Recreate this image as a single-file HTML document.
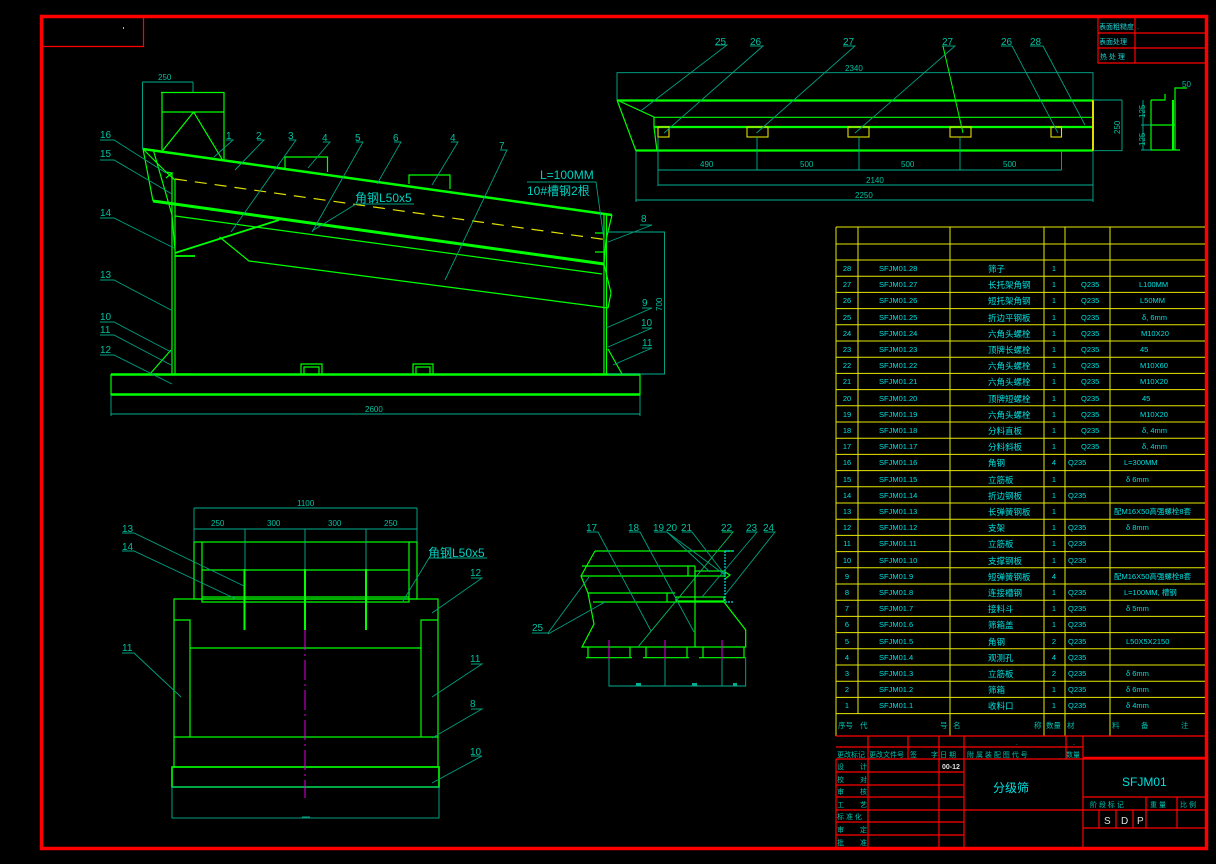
<!DOCTYPE html>
<html><head><meta charset="utf-8"><style>
html,body{margin:0;padding:0;background:#000;}
svg{display:block;}
text{font-family:"Liberation Sans","Noto Sans CJK SC",sans-serif;}
</style></head><body>
<svg width="1216" height="864" viewBox="0 0 1216 864" xmlns="http://www.w3.org/2000/svg">
<rect width="1216" height="864" fill="#000"/>
<!-- border -->
<rect x="41.5" y="16.5" width="1165" height="832" fill="none" stroke="#ff0000" stroke-width="3.5"/>
<path d="M42 46.5H143.5V17" fill="none" stroke="#ff0000" stroke-width="1.2"/>
<rect x="123" y="27" width="1" height="2" fill="#0ff"/>

<!-- top right small table -->
<g stroke="#ff0000" stroke-width="1.2" fill="none">
<path d="M1098 18V63H1205M1098 33H1205M1098 48H1205M1135 18V63"/>
</g>
<g fill="#20d0d0" font-size="7">
<text x="1099" y="29">表面粗糙度</text><text x="1137" y="29">.</text>
<text x="1099" y="44">表面处理</text>
<text x="1100" y="59">热 处 理</text>
</g>

<!-- ===== SIDE VIEW ===== -->
<g stroke="#00ff00" fill="none" stroke-width="1.2">
<!-- hopper -->
<path d="M161 92.5H224M162 92V150M224 92V159M162 112H224M162.5 150.7L193.6 112L222 159" />
<!-- body -->
<path d="M143 149L612 215" stroke-width="2.5"/>
<path d="M153 201L604 264" stroke-width="3"/>
<path d="M175 216L602 274"/>
<path d="M219.5 237L249 261L608 308"/>
<path d="M143 149L153 201M143 149L166 172L175 180M153 149L172 215L175 250M166 172L172 173L166 178"/>
<path d="M612 215L606 240L604 264M604 264L611 293L608 308"/>
<path d="M172 173V374M175 180V374M604 214V374M606.5 214V374" />
<path d="M175 253L279 220M175 256H195" stroke-width="1.8"/>
<path d="M595 233H604M595 252H604"/>
<!-- inspection holes -->
<path d="M285 170V157H327.5V172M409 184V175H450V189"/>
<!-- base -->
<path d="M111 374.5H640M111 394.5H640" stroke-width="2.5"/>
<path d="M111 374V395M640 374V395"/>
<path d="M301 374V364H322V374M304 374V367H319V374M413 374V364H433V374M416 374V367H430V374"/>
<path d="M175 374H193M592 374H604"/>
<path d="M150 374L171 350M622 374L608 349"/>
</g>
<path d="M175 179L608 240" stroke="#e0e000" stroke-width="1.2" stroke-dasharray="12,8" fill="none"/>
<!-- dims side -->
<g stroke="#00b090" stroke-width="0.9" fill="none">
<path d="M142.5 82H193M142.5 82V149M193 82V92"/>
<path d="M111 395V416M640 395V416M111 414H640"/>
<path d="M606 232H665M608 374H665M664.5 232V374"/>
</g>
<g fill="#00c0a0" font-size="8">
<text x="158" y="80">250</text>
<text x="365" y="412">2600</text>
<text x="0" y="0" transform="translate(662,311) rotate(-90)">700</text>
</g>
<!-- leaders side -->
<g stroke="#00a080" stroke-width="0.9" fill="none">
<path d="M100 140H114L166 173"/><path d="M100 160H114L172 194"/>
<path d="M100 218H114L174 248"/><path d="M100 280H114L171 310"/>
<path d="M100 322H114L171 352"/><path d="M100 335H114L171 365"/>
<path d="M100 355H114L172 384"/>
<path d="M226 140H233L214 157"/><path d="M257 140H264L235 170"/>
<path d="M289 140H296L231 232"/><path d="M323 142H330L308 168"/>
<path d="M356 142H363L312 232"/><path d="M394 142H401L377 184"/>
<path d="M451 142H458L432 185"/><path d="M500 150H507L445 280"/>
<path d="M640 225H652L608 242"/><path d="M642 308H652L606 328"/>
<path d="M642 328H652L608 347"/><path d="M642 348H652L613 365"/>
<path d="M356 204H414M356 204L312 231"/>
<path d="M527 182H596L604 240"/>
</g>
<g fill="#00c0a0" font-size="10">
<text x="100" y="138">16</text><text x="100" y="157">15</text><text x="100" y="216">14</text>
<text x="100" y="278">13</text><text x="100" y="320">10</text><text x="100" y="333">11</text>
<text x="100" y="353">12</text>
<text x="226" y="139">1</text><text x="256" y="139">2</text><text x="288" y="139">3</text>
<text x="322" y="141">4</text><text x="355" y="141">5</text><text x="393" y="141">6</text>
<text x="450" y="141">4</text><text x="499" y="149">7</text>
<text x="641" y="222">8</text><text x="642" y="306">9</text><text x="641" y="326">10</text><text x="642" y="346">11</text>
</g>
<g fill="#00d0c0" font-size="12">
<text x="355" y="202">角钢L50x5</text>
<text x="540" y="179">L=100MM</text>
<text x="527" y="195">10#槽钢2根</text>
</g>

<!-- ===== TOP RIGHT VIEW ===== -->
<g stroke="#00ff00" fill="none" stroke-width="1.2">
<path d="M617 100.5H1093M636 150.5H1093M654 127H1093" stroke-width="2.2"/>
<path d="M654 117.3H1093"/>
<path d="M617 100L636 151M617 100L654 117M654 117V127L657 151"/>
<path d="M1151 100V150M1175 100V150M1151 100H1165V94M1151 125H1175M1151 150H1180M1175 100V88H1187"/>
<path d="M1173 100V150" stroke-width="2"/>
</g>
<path d="M1093 100V151" stroke="#e0e000" stroke-width="2"/>
<g stroke="#e0e000" stroke-width="1.1" fill="none">
<rect x="658" y="127" width="11" height="10"/><rect x="747" y="127" width="21" height="10"/>
<rect x="848" y="127" width="21" height="10"/><rect x="950" y="127" width="21" height="10"/>
<rect x="1051" y="127" width="10.5" height="10"/>
</g>
<g stroke="#00b090" stroke-width="0.9" fill="none">
<path d="M617 100V72.7H1093V100"/>
<path d="M1093 100H1122M1093 150.7H1122M1122 100V151"/>
<path d="M757 137V170M859 137V170M960 137V170M658 137V186M1061.5 151V170M658 170H1061.5"/>
<path d="M658 185H1093M1093 151V202M636 151V202M636 200H1093"/>
<path d="M1151 125H1141M1151 150H1141M1143 100V150"/>
</g>
<g fill="#00c0a0" font-size="8">
<text x="845" y="71">2340</text>
<text x="700" y="167">490</text><text x="800" y="167">500</text><text x="901" y="167">500</text><text x="1003" y="167">500</text>
<text x="866" y="183">2140</text><text x="855" y="198">2250</text>
<text transform="translate(1120,134) rotate(-90)">250</text>
<text transform="translate(1145,118) rotate(-90)">125</text>
<text transform="translate(1145,146) rotate(-90)">125</text>
<text x="1182" y="87">50</text>
</g>
<g stroke="#00a080" stroke-width="0.9" fill="none">
<path d="M715 45H727L640.6 111"/><path d="M750 46H763L664 133"/><path d="M843 46H855L756.5 133"/>
<path d="M942 46H955L855 133"/><path d="M1001 46H1012L1058 133"/><path d="M1030 46H1043L1085 125"/>
</g>
<path d="M943 46L963 133" stroke="#00ff00" stroke-width="1"/>
<g fill="#00c0a0" font-size="10">
<text x="715" y="45">25</text><text x="750" y="45">26</text><text x="843" y="45">27</text>
<text x="942" y="45">27</text><text x="1001" y="45">26</text><text x="1030" y="45">28</text>
</g>

<!-- ===== BOTTOM LEFT VIEW ===== -->
<g stroke="#00ff00" fill="none" stroke-width="1.2">
<rect x="194" y="542" width="223" height="57"/>
<path d="M202 542V602H409V542M202 570H409M202 597H409"/>
<rect x="174" y="599" width="264" height="168"/>
<path d="M174 620H190V737M438 620H421V737M190 648H421M174 737H438"/>
<rect x="172" y="767" width="267" height="20" stroke-width="1.6"/>
<path d="M244.5 569V630M305 569V630M366 569V630" stroke-width="2"/>
</g>
<g stroke="#00b090" stroke-width="0.9" fill="none">
<path d="M194 508H417M194 508V542M417 508V542M194 529H417M245 529V569M305 529V569M366 529V569"/>
<rect x="172" y="787" width="267" height="31"/>
<path d="M302 817H310"/>
</g>
<path d="M305 630V798" stroke="#e000e0" stroke-width="1" stroke-dasharray="20,4,2,4"/>
<g fill="#00c0a0" font-size="8">
<text x="297" y="506">1100</text>
<text x="211" y="526">250</text><text x="267" y="526">300</text><text x="328" y="526">300</text><text x="384" y="526">250</text>
</g>
<g stroke="#00a080" stroke-width="0.9" fill="none">
<path d="M122 533H134L244 586"/><path d="M122 551H134L236 599"/>
<path d="M429 558H487M429 558L403 601"/>
<path d="M471 578H482L432 613"/><path d="M122 653H134L181 697"/>
<path d="M471 664H482L432 697"/><path d="M471 709H482L432 738"/><path d="M471 756H482L432 783"/>
</g>
<g fill="#00c0a0" font-size="10">
<text x="122" y="532">13</text><text x="122" y="550">14</text><text x="470" y="576">12</text>
<text x="122" y="651">11</text><text x="470" y="662">11</text><text x="470" y="707">8</text><text x="470" y="755">10</text>
</g>
<text x="428" y="557" fill="#00d0c0" font-size="12">角钢L50x5</text>

<!-- ===== BOTTOM MIDDLE VIEW ===== -->
<g stroke="#00ff00" fill="none" stroke-width="1.2">
<path d="M595 551H734M582 566H695M581 576H695M588 593H675M593 602H724"/>
<path d="M595 551L581 576L588 593L594 624L582 647H745.7V630L724 602"/>
<path d="M695 566V647M688 566V576M667 593V602"/>
<path d="M586 657.7H632M643 657.7H689M699 657.7H745M588 647V658M630 647V658M646 647V658M687 647V658M703 647V658M744 647V658"/>
<rect x="695" y="571" width="30" height="5"/><rect x="676" y="597" width="48" height="4"/>
<path d="M725 572L730 575L725 579"/>
</g>
<path d="M725 551V602M725 551H734M725 602H734" stroke="#00e0e0" stroke-width="1.2" stroke-dasharray="2,1"/>
<g stroke="#00b090" stroke-width="0.9" fill="none">
<path d="M609 657V686H745.7V657M665 657V686M722 657V686"/>
</g>
<g stroke="#e000e0" stroke-width="1"><path d="M609 640V660M665 640V660M722 640V660"/></g>
<g fill="#00b090"><rect x="636" y="683" width="5" height="3"/><rect x="692" y="683" width="5" height="3"/><rect x="733" y="683" width="4" height="3"/></g>
<g stroke="#00a080" stroke-width="0.9" fill="none">
<path d="M587 532H598L651 631"/><path d="M629 532H640L694 632"/>
<path d="M654 532H667L710 572"/><path d="M667 532L725 575"/><path d="M682 532H692L725 575"/>
<path d="M746 532H757L702 597"/><path d="M764 532H775L725 595"/>
<path d="M532 633H548L589 577M548 634L605 602"/>
</g>
<path d="M722 532H733L638 647" stroke="#00c060" stroke-width="0.9" fill="none"/>
<g fill="#00c0a0" font-size="10">
<text x="586" y="531">17</text><text x="628" y="531">18</text><text x="653" y="531">19</text>
<text x="666" y="531">20</text><text x="681" y="531">21</text><text x="721" y="531">22</text>
<text x="746" y="531">23</text><text x="763" y="531">24</text><text x="532" y="631">25</text>
</g>

<!-- ===== PARTS TABLE ===== -->
<g stroke="#e8e800" stroke-width="1" fill="none">
<path d="M836 227H1205M836 244H1205M836 260H1205"/>
<path d="M836 276.2H1205M836 292.4H1205M836 308.6H1205M836 324.8H1205M836 341H1205M836 357.2H1205M836 373.4H1205M836 389.6H1205M836 405.8H1205M836 422H1205M836 438.2H1205M836 454.4H1205M836 470.6H1205M836 486.8H1205M836 503H1205M836 519.2H1205M836 535.4H1205M836 551.6H1205M836 567.8H1205M836 584H1205M836 600.2H1205M836 616.4H1205M836 632.6H1205M836 648.8H1205M836 665H1205M836 681.2H1205M836 697.4H1205M836 713.6H1205"/>
<path d="M836 227V736M858 227V714M950 227V736M1044 227V736M1065 227V736M1110 227V736"/>
</g>
<g fill="#00e0e0" font-size="7.5">
<g text-anchor="middle">
<text x="847" y="271">28</text><text x="847" y="287">27</text><text x="847" y="303">26</text><text x="847" y="320">25</text><text x="847" y="336">24</text><text x="847" y="352">23</text><text x="847" y="368">22</text><text x="847" y="384">21</text><text x="847" y="401">20</text><text x="847" y="417">19</text><text x="847" y="433">18</text><text x="847" y="449">17</text><text x="847" y="465">16</text><text x="847" y="482">15</text><text x="847" y="498">14</text><text x="847" y="514">13</text><text x="847" y="530">12</text><text x="847" y="546">11</text><text x="847" y="563">10</text><text x="847" y="579">9</text><text x="847" y="595">8</text><text x="847" y="611">7</text><text x="847" y="627">6</text><text x="847" y="644">5</text><text x="847" y="660">4</text><text x="847" y="676">3</text><text x="847" y="692">2</text><text x="847" y="708">1</text>
</g>
<text x="879" y="271">SFJM01.28</text><text x="879" y="287">SFJM01.27</text><text x="879" y="303">SFJM01.26</text><text x="879" y="320">SFJM01.25</text><text x="879" y="336">SFJM01.24</text><text x="879" y="352">SFJM01.23</text><text x="879" y="368">SFJM01.22</text><text x="879" y="384">SFJM01.21</text><text x="879" y="401">SFJM01.20</text><text x="879" y="417">SFJM01.19</text><text x="879" y="433">SFJM01.18</text><text x="879" y="449">SFJM01.17</text><text x="879" y="465">SFJM01.16</text><text x="879" y="482">SFJM01.15</text><text x="879" y="498">SFJM01.14</text><text x="879" y="514">SFJM01.13</text><text x="879" y="530">SFJM01.12</text><text x="879" y="546">SFJM01.11</text><text x="879" y="563">SFJM01.10</text><text x="879" y="579">SFJM01.9</text><text x="879" y="595">SFJM01.8</text><text x="879" y="611">SFJM01.7</text><text x="879" y="627">SFJM01.6</text><text x="879" y="644">SFJM01.5</text><text x="879" y="660">SFJM01.4</text><text x="879" y="676">SFJM01.3</text><text x="879" y="692">SFJM01.2</text><text x="879" y="708">SFJM01.1</text>
<g font-size="8.5">
<text x="988" y="272">筛子</text><text x="988" y="288">长托架角钢</text><text x="988" y="304">短托架角钢</text><text x="988" y="321">折边平钢板</text><text x="988" y="337">六角头螺栓</text><text x="988" y="353">顶牌长螺栓</text><text x="988" y="369">六角头螺栓</text><text x="988" y="385">六角头螺栓</text><text x="988" y="402">顶牌短螺栓</text><text x="988" y="418">六角头螺栓</text><text x="988" y="434">分料直板</text><text x="988" y="450">分料斜板</text><text x="988" y="466">角钢</text><text x="988" y="483">立筋板</text><text x="988" y="499">折边钢板</text><text x="988" y="515">长弹簧钢板</text><text x="988" y="531">支架</text><text x="988" y="547">立筋板</text><text x="988" y="564">支撑钢板</text><text x="988" y="580">短弹簧钢板</text><text x="988" y="596">连接槽钢</text><text x="988" y="612">接料斗</text><text x="988" y="628">筛箱盖</text><text x="988" y="645">角钢</text><text x="988" y="661">观测孔</text><text x="988" y="677">立筋板</text><text x="988" y="693">筛箱</text><text x="988" y="709">收料口</text>
</g>
<g text-anchor="middle"><text x="1054" y="271">1</text><text x="1054" y="287">1</text><text x="1054" y="303">1</text><text x="1054" y="320">1</text><text x="1054" y="336">1</text><text x="1054" y="352">1</text><text x="1054" y="368">1</text><text x="1054" y="384">1</text><text x="1054" y="401">1</text><text x="1054" y="417">1</text><text x="1054" y="433">1</text><text x="1054" y="449">1</text><text x="1054" y="465">4</text><text x="1054" y="482">1</text><text x="1054" y="498">1</text><text x="1054" y="514">1</text><text x="1054" y="530">1</text><text x="1054" y="546">1</text><text x="1054" y="563">1</text><text x="1054" y="579">4</text><text x="1054" y="595">1</text><text x="1054" y="611">1</text><text x="1054" y="627">1</text><text x="1054" y="644">2</text><text x="1054" y="660">4</text><text x="1054" y="676">2</text><text x="1054" y="692">1</text><text x="1054" y="708">1</text></g>
<text x="1081" y="287">Q235</text><text x="1081" y="303">Q235</text><text x="1081" y="320">Q235</text><text x="1081" y="336">Q235</text><text x="1081" y="352">Q235</text><text x="1081" y="368">Q235</text><text x="1081" y="384">Q235</text><text x="1081" y="401">Q235</text><text x="1081" y="417">Q235</text><text x="1081" y="433">Q235</text><text x="1081" y="449">Q235</text>
<text x="1068" y="465">Q235</text><text x="1068" y="498">Q235</text><text x="1068" y="530">Q235</text><text x="1068" y="546">Q235</text><text x="1068" y="563">Q235</text><text x="1068" y="595">Q235</text><text x="1068" y="611">Q235</text><text x="1068" y="627">Q235</text><text x="1068" y="644">Q235</text><text x="1068" y="660">Q235</text><text x="1068" y="676">Q235</text><text x="1068" y="692">Q235</text><text x="1068" y="708">Q235</text>
<text x="1139" y="287">L100MM</text><text x="1140" y="303">L50MM</text><text x="1142" y="320">δ, 6mm</text><text x="1141" y="336">M10X20</text><text x="1140" y="352">45</text><text x="1140" y="368">M10X60</text><text x="1140" y="384">M10X20</text><text x="1142" y="401">45</text><text x="1140" y="417">M10X20</text><text x="1142" y="433">δ, 4mm</text><text x="1142" y="449">δ, 4mm</text><text x="1124" y="465">L=300MM</text>
<text x="1126" y="482">δ 6mm</text><text x="1114" y="514">配M16X50高强螺栓8套</text><text x="1126" y="530">δ 8mm</text><text x="1114" y="579">配M16X50高强螺栓8套</text><text x="1124" y="595">L=100MM, 槽钢</text><text x="1126" y="611">δ 5mm</text><text x="1126" y="644">L50X5X2150</text><text x="1126" y="676">δ 6mm</text><text x="1126" y="692">δ 6mm</text><text x="1126" y="708">δ 4mm</text>
<g font-size="7.5" fill="#00c0b0">
<text x="838" y="728">序号</text><text x="860" y="728">代</text><text x="940" y="728">号</text><text x="953" y="728">名</text><text x="1034" y="728">称</text><text x="1046" y="728">数量</text><text x="1067" y="728">材</text><text x="1112" y="728">料</text><text x="1141" y="728">备</text><text x="1181" y="728">注</text>
</g>
</g>

<!-- ===== TITLE BLOCK ===== -->
<g stroke="#ff0000" fill="none" stroke-width="1.2">
<path d="M836 736H1205M836 747H1083M836 759H1205"/>
<path d="M868 736V759M908 736V759M939 736V759M964 736V759M1066 736V759M1083 736V848"/>
<path d="M836 759V848M868 759V848M939 759V848M964 759V848"/>
<path d="M836 772H964M836 785H964M836 797H964M836 810H964M836 822H964M836 835H964"/>
<path d="M964 810H1083"/>
<path d="M1083 797H1205M1083 810H1205M1083 828H1205"/>
<path d="M1146 797V828M1177 797V828M1099 810V828M1116 810V828M1133 810V828"/>
<path d="M1083 758H1205" stroke-width="2.5"/>
</g>
<g fill="#00c0b0" font-size="7">
<text x="837" y="757">更改标记</text><text x="869" y="757">更改文件号</text><text x="910" y="757">签</text><text x="931" y="757">字</text><text x="940" y="757">日 期</text><text x="967" y="757">附 属 装 配 图 代 号</text><text x="1066" y="757">数量</text>
<text x="1016" y="745">.</text><text x="1073" y="745">.</text>
<text x="837" y="769">设</text><text x="860" y="769">计</text>
<text x="837" y="782">校</text><text x="860" y="782">对</text>
<text x="837" y="794">审</text><text x="860" y="794">核</text>
<text x="837" y="807">工</text><text x="860" y="807">艺</text>
<text x="837" y="819">标 准 化</text>
<text x="837" y="832">审</text><text x="860" y="832">定</text>
<text x="837" y="845">批</text><text x="860" y="845">准</text>
<text x="942" y="769" fill="#e0e0e0" font-weight="bold">00-12</text>
<text x="1090" y="807">阶 段 标 记</text><text x="1150" y="807">重 量</text><text x="1180" y="807">比 例</text>
</g>
<text x="993" y="792" fill="#00e0e0" font-size="12">分级筛</text>
<text x="1122" y="786" fill="#00e0e0" font-size="12">SFJM01</text>
<g fill="#e0e0e0" font-size="10"><text x="1104" y="824">S</text><text x="1121" y="824">D</text><text x="1137" y="824">P</text></g>
</svg>
</body></html>
